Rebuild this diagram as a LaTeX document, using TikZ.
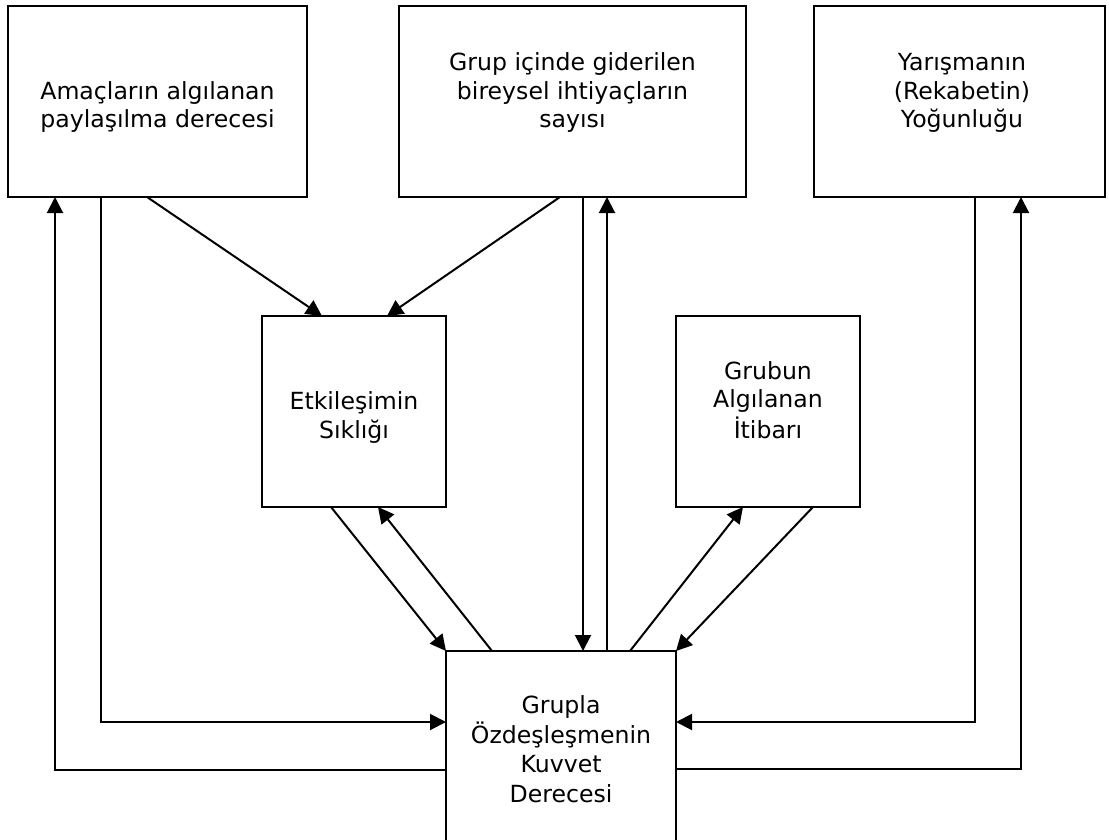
\documentclass[tikz,border=0pt]{standalone}
\usepackage{fontspec}
\setmainfont{DejaVu Sans}
\usetikzlibrary{arrows.meta}

\begin{document}
\begin{tikzpicture}[x=1pt,y=-1pt,
  box/.style={draw,line width=2.2pt,inner sep=0pt,outer sep=0pt,minimum width=#1},
  lbl/.style={anchor=base,inner sep=0pt,font=\fontsize{23.6}{28.5}\selectfont},
  arr/.style={line width=2pt,-{Triangle[length=16pt,width=16pt]}}]
\useasboundingbox (0,0) rectangle (1109,840);
\clip (0,0) rectangle (1109,840);

% boxes
\node[box=299pt,minimum height=191pt] (A) at (157.5,101.5) {};
\node[box=347pt,minimum height=191pt] (B) at (572.5,101.5) {};
\node[box=291pt,minimum height=191pt] (C) at (959.5,101.5) {};
\node[box=184pt,minimum height=191pt] (D) at (354,411.5) {};
\node[box=184pt,minimum height=191pt] (E) at (768,411.5) {};
\node[box=230pt,minimum height=199pt] (F) at (561,750.5) {};

% labels (base anchor = last line)
\node[lbl] (tA) at (157.5,128) {\begin{tabular}[b]{@{}c@{}}Amaçların algılanan\\paylaşılma derecesi\end{tabular}};
\node[lbl] (tB) at (572.5,128) {\begin{tabular}[b]{@{}c@{}}Grup içinde giderilen\\bireysel ihtiyaçların\\sayısı\end{tabular}};
\node[lbl] (tC) at (962,128) {\begin{tabular}[b]{@{}c@{}}Yarışmanın\\(Rekabetin)\\Yoğunluğu\end{tabular}};
\node[lbl] (tD) at (354,438) {\begin{tabular}[b]{@{}c@{}}Etkileşimin\\Sıklığı\end{tabular}};
\node[lbl] (tE) at (768,438) {\begin{tabular}[b]{@{}c@{}}Grubun\\Algılanan\\İtibarı\end{tabular}};
\node[lbl,font=\fontsize{23.6}{29.3}\selectfont] (tF) at (561,802) {\begin{tabular}[b]{@{}c@{}}Grupla\\Özdeşleşmenin\\Kuvvet\\Derecesi\end{tabular}};

% diagonal connectors
\draw[arr] (147,0 |- A.south) -- (322,0 |- D.north);
\draw[arr] (560,0 |- B.south) -- (387,0 |- D.north);
\draw[arr] (331,0 |- D.south) -- (F.north west);
\draw[arr] (492,0 |- F.north) -- (378,0 |- D.south);
\draw[arr] (630,0 |- F.north) -- (743,0 |- E.south);
\draw[arr] (813,0 |- E.south) -- (F.north east);

% vertical connectors between B and F
\draw[arr] (583,0 |- B.south) -- (583,0 |- F.north);
\draw[arr] (607,0 |- F.north) -- (607,0 |- B.south);

% elbow connectors on the left
\draw[arr] (101,0 |- A.south) |- (F.west |- 0,722);
\draw[arr] (F.west |- 0,770) -| (55,0 |- A.south);

% elbow connectors on the right
\draw[arr] (975,0 |- C.south) |- (F.east |- 0,722);
\draw[arr] (F.east |- 0,769) -| (1021,0 |- C.south);
\end{tikzpicture}
\end{document}
